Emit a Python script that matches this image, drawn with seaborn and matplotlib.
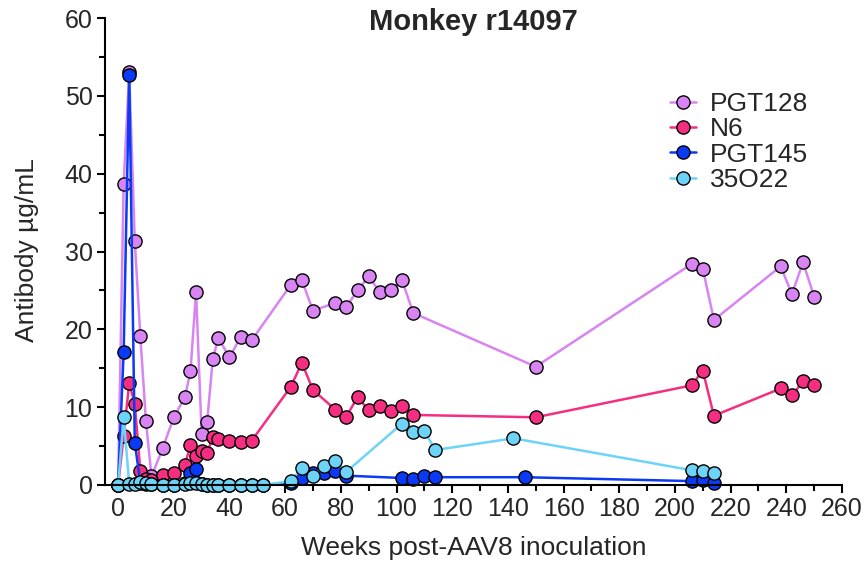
import matplotlib.pyplot as plt
import matplotlib.ticker as mticker
import seaborn as sns
import pandas as pd

# weeks / antibody (ug/mL) per antibody
pgt128_weeks = [0, 2, 4, 6, 8, 10, 12, 16, 20, 24, 26, 28, 30, 32, 34, 36, 40, 44, 48,
                62, 66, 70, 78, 82, 86, 90, 94, 98, 102, 106, 150,
                206, 210, 214, 238, 242, 246, 250]
pgt128_vals = [0, 38.7, 53.0, 31.3, 19.1, 8.2, 1.1, 4.7, 8.7, 11.3, 14.6, 24.8, 6.6, 8.1, 16.2, 18.9, 16.4, 19.0, 18.6,
               25.7, 26.3, 22.4, 23.4, 22.9, 25.0, 26.8, 24.8, 25.1, 26.3, 22.1, 15.2,
               28.4, 27.8, 21.2, 28.1, 24.5, 28.6, 24.2]

n6_weeks = [0, 2, 4, 6, 8, 10, 12, 16, 20, 24, 26, 28, 30, 32, 34, 36, 40, 44, 48,
            62, 66, 70, 78, 82, 86, 90, 94, 98, 102, 106, 150,
            206, 210, 214, 238, 242, 246, 250]
n6_vals = [0, 6.3, 13.1, 10.4, 1.8, 0.8, 0.6, 1.3, 1.6, 2.6, 5.1, 3.7, 4.4, 4.1, 6.2, 5.9, 5.7, 5.5, 5.7,
           12.6, 15.7, 12.2, 9.7, 8.8, 11.3, 9.6, 10.2, 9.5, 10.2, 9.0, 8.7,
           12.8, 14.7, 8.9, 12.4, 11.5, 13.3, 12.8]

pgt145_weeks = [0, 2, 4, 6, 8, 10, 12, 16, 20, 24, 26, 28, 30, 32, 34, 36, 40, 44, 48, 52,
                62, 66, 70, 74, 78, 82, 102, 106, 110, 114, 146, 206, 210, 214]
pgt145_vals = [0, 17.1, 52.7, 5.4, 0.3, 0.1, 0.1, 0, 0, 0.3, 1.6, 2.0, 0.1, 0, 0, 0, 0, 0, 0, 0,
               0.3, 0.9, 1.5, 1.6, 1.8, 1.2, 0.9, 0.8, 1.2, 1.0, 1.0, 0.5, 0.6, 0.3]

o22_weeks = [0, 2, 4, 6, 8, 10, 12, 16, 20, 24, 26, 28, 30, 32, 34, 36, 40, 44, 48, 52,
             62, 66, 70, 74, 78, 82, 102, 106, 110, 114, 142, 206, 210, 214]
o22_vals = [0, 8.7, 0.1, 0.1, 0.4, 0.3, 0.1, 0, 0, 0.1, 0.2, 0.3, 0.1, 0, 0, 0, 0, 0, 0, 0,
            0.5, 2.2, 1.1, 2.5, 3.1, 1.7, 7.9, 6.8, 6.9, 4.5, 6.0, 1.9, 1.8, 1.5]

series = [
    ("PGT128", pgt128_weeks, pgt128_vals, "#D884F2"),
    ("N6", n6_weeks, n6_vals, "#F52E82"),
    ("PGT145", pgt145_weeks, pgt145_vals, "#0A3AF5"),
    ("35O22", o22_weeks, o22_vals, "#6ED4F7"),
]

sns.set_style("ticks")
plt.rcParams['font.family'] = ['Liberation Sans', 'DejaVu Sans']

fig = plt.figure(figsize=(8.66, 5.64), dpi=100)
ax = fig.add_axes([105 / 866, 1 - 485 / 564, 737 / 866, 467 / 564])

for name, weeks, vals, color in series:
    df = pd.DataFrame({"week": weeks, "ab": vals})
    sns.lineplot(data=df, x="week", y="ab", ax=ax, color=color, label=name,
                 marker="o", markersize=9.5, markeredgecolor="black",
                 markeredgewidth=1.0, linewidth=1.8, estimator=None, sort=False,
                 clip_on=False)

ax.set_xlim(-4.7, 260)
ax.set_ylim(0, 60)
ax.xaxis.set_major_locator(mticker.MultipleLocator(20))
ax.xaxis.set_minor_locator(mticker.MultipleLocator(10))
ax.yaxis.set_major_locator(mticker.MultipleLocator(10))
ax.yaxis.set_minor_locator(mticker.MultipleLocator(5))
ax.tick_params(which="major", length=6, width=1.5, labelsize=18, pad=3,
               direction="out", color="black")
ax.tick_params(which="minor", length=4, width=1.5, direction="out", color="black")
for side in ["top", "right"]:
    ax.spines[side].set_visible(False)
for side in ["left", "bottom"]:
    ax.spines[side].set_linewidth(1.5)
    ax.spines[side].set_color("black")

ax.set_xlabel("Weeks post-AAV8 inoculation", fontsize=19, va="center")
ax.set_ylabel("Antibody µg/mL", fontsize=19, va="center")
ax.xaxis.set_label_coords(0.5, -0.135)
ax.yaxis.set_label_coords(-0.106, 0.503)

fig.text(473 / 866, 1 - 22 / 564, "Monkey r14097", ha="center", va="center",
         fontsize=21, fontweight="bold")

ax.legend(loc="upper left", bbox_to_anchor=(670 / 866, 1 - 92 / 564),
          bbox_transform=fig.transFigure, frameon=False, fontsize=19,
          labelspacing=0.05, handlelength=1.0, handletextpad=0.5, borderpad=0,
          borderaxespad=0)

fig.savefig("out.png", dpi=100)
